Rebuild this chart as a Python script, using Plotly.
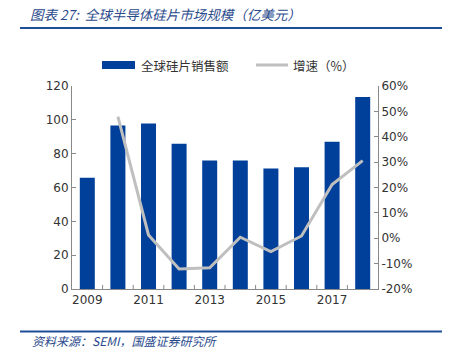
import plotly.graph_objects as go

years = ["2009", "2010", "2011", "2012", "2013", "2014", "2015", "2016", "2017", "2018"]
sales = [65.8, 96.7, 97.9, 85.9, 76.0, 76.0, 71.3, 71.9, 87.1, 113.5]
growth_years = ["2010", "2011", "2012", "2013", "2014", "2015", "2016", "2017", "2018"]
growth = [47.9, 1.3, -12.1, -11.6, 0.4, -5.3, 0.9, 21.2, 30.6]
x_tick_labels = ["2009", "2011", "2013", "2015", "2017"]
left_ticks = [0, 20, 40, 60, 80, 100, 120]
right_ticks = [-20, -10, 0, 10, 20, 30, 40, 50, 60]
series_names = ["全球硅片销售额", "增速（%）"]

W, H = 452, 348
L, R, T, B = 72, 378, 86, 289
BAR_COLOR = "#00409a"
LINE_COLOR = "#bfbfbf"

def px(xpix):
    return (xpix - L) / (R - L)

def py(ypix):
    return (B - ypix) / (B - T)

fig = go.Figure()
fig.add_trace(go.Bar(
    x=years, y=sales, name=series_names[0],
    marker=dict(color=BAR_COLOR, line=dict(width=0)),
    width=0.49,
))
fig.add_trace(go.Scatter(
    x=growth_years, y=growth, name=series_names[1], yaxis="y2",
    mode="lines", line=dict(color=LINE_COLOR, width=3),
))

axis_font = dict(family="Tahoma, DejaVu Sans, sans-serif", size=12, color="#333333")

fig.update_layout(
    width=W, height=H,
    margin=dict(l=L, r=W - R, t=T, b=H - B, autoexpand=False),
    plot_bgcolor="white", paper_bgcolor="white",
    showlegend=False,
    xaxis=dict(
        type="category", tickmode="array", tickvals=x_tick_labels, ticktext=x_tick_labels,
        showline=True, linecolor="#898989", linewidth=1, showgrid=False,
        ticks="", tickfont=axis_font, range=[-0.5, 9.5],
    ),
    yaxis=dict(
        range=[0, 120], tickvals=left_ticks, showgrid=False, zeroline=False,
        showline=True, linecolor="#898989", linewidth=1,
        ticks="inside", ticklen=4, tickcolor="#898989", tickfont=axis_font,
    ),
    yaxis2=dict(
        range=[-20, 60], tickmode="array", tickvals=right_ticks,
        ticktext=[f"{v}%" for v in right_ticks], overlaying="y", side="right",
        showgrid=False, zeroline=False, showline=True, linecolor="#898989", linewidth=1,
        ticks="inside", ticklen=4, tickcolor="#898989", tickfont=axis_font,
    ),
    font=dict(family="Noto Sans CJK SC"),
)

# category boundary tick marks on x-axis (inside)
for i in range(9):
    v = i + 0.5
    fig.add_shape(type="line", xref="x", yref="paper", x0=v, x1=v, y0=0, y1=0.02,
                  line=dict(color="#898989", width=1))

# manual legend
fig.add_shape(type="rect", xref="paper", yref="paper",
              x0=px(102), x1=px(135), y0=py(69), y1=py(61),
              fillcolor=BAR_COLOR, line=dict(width=0))
fig.add_annotation(text=series_names[0], xref="paper", yref="paper", x=px(139), y=py(65),
                   xanchor="left", yanchor="middle", showarrow=False,
                   font=dict(family="Noto Sans CJK SC", size=12.5, color="#333333"))
fig.add_shape(type="line", xref="paper", yref="paper",
              x0=px(256), x1=px(288), y0=py(65), y1=py(65),
              line=dict(color=LINE_COLOR, width=3))
fig.add_annotation(text=series_names[1], xref="paper", yref="paper", x=px(291), y=py(65),
                   xanchor="left", yanchor="middle", showarrow=False,
                   font=dict(family="Noto Sans CJK SC", size=12.5, color="#333333"))

# header and footer
fig.add_annotation(text="<i>图表 27:  全球半导体硅片市场规模（亿美元）</i>", xref="paper", yref="paper",
                   x=px(28), y=py(14), xanchor="left", yanchor="middle",
                   showarrow=False, font=dict(family="Noto Sans CJK SC", size=13.5, color="#2a4a8c"))
fig.add_shape(type="line", xref="paper", yref="paper",
              x0=px(20), x1=px(442), y0=py(28), y1=py(28),
              line=dict(color="#1f4e99", width=2))
fig.add_shape(type="line", xref="paper", yref="paper",
              x0=px(20), x1=px(442), y0=py(331.5), y1=py(331.5),
              line=dict(color="#1f4e99", width=2))
fig.add_annotation(text="<i>资料来源：SEMI，国盛证券研究所</i>", xref="paper", yref="paper",
                   x=px(30), y=py(340.5), xanchor="left", yanchor="middle",
                   showarrow=False, font=dict(family="Noto Sans CJK SC", size=12, color="#2a4a8c"))

fig.write_html("out.html")
